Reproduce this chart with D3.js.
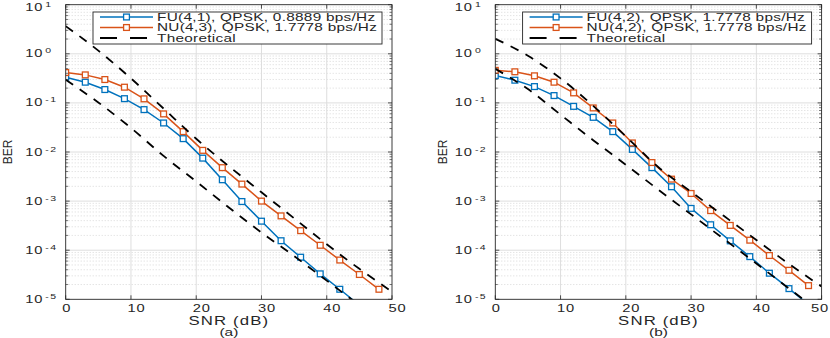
<!DOCTYPE html>
<html>
<head>
<meta charset="utf-8">
<script src="https://cdn.jsdelivr.net/npm/d3@7"></script>
<style>
body { margin: 0; background: #fff; }
text { font-family: "Liberation Sans", Arial, sans-serif; fill: #262626; }
</style>
</head>
<body>
<div id="chart"></div>
<script>
// SNR points (dB) of the simulated curves and of the theoretical curves
const snr = [0, 3, 6, 9, 12, 15, 18, 21, 24, 27, 30, 33, 36, 39, 42, 45, 48];
const theorySnr = [0, 5, 10, 15, 20, 25, 30, 35, 40, 45, 50];

// panel (a)
const fuA = [0.333, 0.264, 0.187, 0.122, 0.073, 0.039, 0.0187, 0.0075, 0.00272, 9.8e-4, 3.9e-4, 1.56e-4, 7.2e-5, 3.3e-5, 1.6e-5, 7.6e-6];
const nuA = [0.415, 0.372, 0.299, 0.209, 0.121, 0.0597, 0.026, 0.0108, 0.0048, 0.00222, 1.0e-3, 5.0e-4, 2.5e-4, 1.26e-4, 6.3e-5, 3.2e-5, 1.6e-5];
const theoryUpperA = [3.66, 1.16, 0.316, 0.0767, 0.0186, 5.13e-3, 1.51e-3, 4.47e-4, 1.32e-4, 4.17e-5, 1.43e-5];
const theoryLowerA = [0.295, 0.102, 0.0309, 8.32e-3, 2.51e-3, 7.41e-4, 2.29e-4, 7.59e-5, 2.40e-5, 7.59e-6, 2.40e-6];

// panel (b)
const fuB = [0.36, 0.29, 0.215, 0.141, 0.085, 0.0508, 0.026, 0.0113, 0.0048, 0.00196, 7.1e-4, 3.3e-4, 1.55e-4, 7.4e-5, 3.4e-5, 1.65e-5, 7.8e-6];
const nuB = [0.46, 0.43, 0.356, 0.264, 0.16, 0.079, 0.039, 0.0153, 0.0061, 0.0028, 0.00143, 6.4e-4, 3.2e-4, 1.6e-4, 7.8e-5, 3.9e-5, 1.9e-5];
const theoryUpperB = [2.02, 0.912, 0.316, 0.0871, 0.0209, 4.90e-3, 1.55e-3, 5.01e-4, 1.62e-4, 5.25e-5, 1.82e-5];
const theoryLowerB = [0.494, 0.191, 0.0575, 0.0174, 5.50e-3, 1.70e-3, 5.37e-4, 1.70e-4, 5.37e-5, 1.66e-5, 5.25e-6];

const legendA = ['FU(4,1), QPSK, 0.8889 bps/Hz', 'NU(4,3), QPSK, 1.7778 bps/Hz', 'Theoretical'];
const legendB = ['FU(4,2), QPSK, 1.7778 bps/Hz', 'NU(4,2), QPSK, 1.7778 bps/Hz', 'Theoretical'];
const panelNames = ['(a)', '(b)'];

const xTicks = [0, 10, 20, 30, 40, 50];
const yExps = [-5, -4, -3, -2, -1, 0, 1];
const minorMult = [2, 3, 4, 5, 6, 7, 8, 9];

const blue = '#0072BD';
const orange = '#D95319';
const sx = 1.4; // text in the figure is drawn wide

const w = 830, h = 338;
const plotTop = 4.7, plotBottom = 299.3, plotW = 326.3;

const svg = d3.select('#chart').append('svg')
    .attr('width', w)
    .attr('height', h);

const wideText = (g, x, y, size, str, stretch = sx) => g.append('text')
    .attr('transform', 'translate(' + x + ',' + y + ') scale(' + stretch + ',1)')
    .attr('font-size', size)
    .text(str);

const drawPanel = (p, idx) => {
    const left = p.left;
    const xScale = d3.scaleLinear().domain([0, 50]).range([left, left + plotW]);
    const yScale = d3.scaleLog().domain([1e-5, 10]).range([plotBottom, plotTop]);
    const g = svg.append('g');

    g.append('clipPath').attr('id', 'clip' + idx)
        .append('rect')
        .attr('x', left).attr('y', plotTop)
        .attr('width', plotW).attr('height', plotBottom - plotTop);

    // minor grid
    const minorVals = [];
    yExps.slice(0, -1).forEach(e => minorMult.forEach(m => minorVals.push(m * Math.pow(10, e))));
    g.selectAll('.minor').data(minorVals).enter().append('line')
        .attr('x1', left).attr('x2', left + plotW)
        .attr('y1', d => yScale(d)).attr('y2', d => yScale(d))
        .attr('stroke', '#cfcfcf').attr('stroke-width', 0.8)
        .attr('stroke-dasharray', '1,2');

    // major grid
    g.selectAll('.hgrid').data(yExps.slice(1, -1)).enter().append('line')
        .attr('x1', left).attr('x2', left + plotW)
        .attr('y1', d => yScale(Math.pow(10, d))).attr('y2', d => yScale(Math.pow(10, d)))
        .attr('stroke', '#dedede').attr('stroke-width', 1);
    g.selectAll('.vgrid').data(xTicks.slice(1, -1)).enter().append('line')
        .attr('x1', d => xScale(d)).attr('x2', d => xScale(d))
        .attr('y1', plotTop).attr('y2', plotBottom)
        .attr('stroke', '#dedede').attr('stroke-width', 1);

    const plot = g.append('g').attr('clip-path', 'url(#clip' + idx + ')');

    const line = d3.line()
        .x((d, i) => xScale(snr[i]))
        .y(d => yScale(d));
    const theoryLine = d3.line()
        .x((d, i) => xScale(theorySnr[i]))
        .y(d => yScale(d))
        .curve(d3.curveMonotoneX);

    [[p.fu, blue], [p.nu, orange]].forEach(([vals, col]) => {
        plot.append('path')
            .attr('d', line(vals))
            .attr('fill', 'none').attr('stroke', col).attr('stroke-width', 1.5);
        plot.selectAll(null)
            .data(vals.map((v, i) => [snr[i], v]).filter(d => d[1] >= 1e-5))
            .enter().append('rect')
            .attr('x', d => xScale(d[0]) - 2.9).attr('y', d => yScale(d[1]) - 2.9)
            .attr('width', 5.8).attr('height', 5.8)
            .attr('fill', '#fff').attr('stroke', col).attr('stroke-width', 1.3);
    });

    [p.up, p.low].forEach(vals => {
        plot.append('path')
            .attr('d', theoryLine(vals))
            .attr('fill', 'none').attr('stroke', '#000').attr('stroke-width', 1.8)
            .attr('stroke-dasharray', '9,8');
    });

    // ticks, inside on all four sides
    xTicks.forEach(t => {
        [[plotBottom, -4], [plotTop, 4]].forEach(([y, d]) => {
            g.append('line').attr('x1', xScale(t)).attr('x2', xScale(t))
                .attr('y1', y).attr('y2', y + d).attr('stroke', '#262626').attr('stroke-width', 0.8);
        });
    });
    yExps.forEach(e => {
        const y = yScale(Math.pow(10, e));
        [[left, 4], [left + plotW, -4]].forEach(([x, d]) => {
            g.append('line').attr('x1', x).attr('x2', x + d)
                .attr('y1', y).attr('y2', y).attr('stroke', '#262626').attr('stroke-width', 0.8);
        });
    });
    minorVals.forEach(v => {
        const y = yScale(v);
        [[left, 2.5], [left + plotW, -2.5]].forEach(([x, d]) => {
            g.append('line').attr('x1', x).attr('x2', x + d)
                .attr('y1', y).attr('y2', y).attr('stroke', '#262626').attr('stroke-width', 0.6);
        });
    });

    // box
    g.append('rect')
        .attr('x', left).attr('y', plotTop)
        .attr('width', plotW).attr('height', plotBottom - plotTop)
        .attr('fill', 'none').attr('stroke', '#262626').attr('stroke-width', 0.9);

    // tick labels
    xTicks.forEach(t => {
        const lbl = wideText(g, xScale(t) - 3.5, 312, 10.5, t).attr('letter-spacing', 0.6);
        const r = lbl.node().getBoundingClientRect();
        if (r.right > w - 1) {
            lbl.attr('transform', 'translate(' + (xScale(t) - 3.5 - (r.right - w + 1)) + ',312) scale(' + sx + ',1)');
        }
    });
    yExps.forEach(e => {
        const y = Math.max(yScale(Math.pow(10, e)) + 3.5, 10.8);
        const t = wideText(g, left - 40.5, y, 10.5, '10')
            .attr('letter-spacing', 0.6);
        t.append('tspan').attr('dy', -4).attr('dx', 1.5).attr('font-size', 7.5)
            .attr('letter-spacing', 1).text(e);
    });

    // axis labels
    g.append('text')
        .attr('transform', 'translate(' + p.berX + ',152) rotate(-90)')
        .attr('text-anchor', 'middle').attr('font-size', 12)
        .text('BER');
    wideText(g, left + plotW / 2, 324.5, 12, 'SNR (dB)')
        .attr('text-anchor', 'middle').attr('letter-spacing', 0.8);
    wideText(g, left + plotW / 2, 335.5, 11, p.name)
        .attr('text-anchor', 'middle');

    // legend
    const lx = left + 27.3;
    const lg = g.append('g');
    lg.append('rect')
        .attr('x', lx).attr('y', 12).attr('width', 289).attr('height', 32)
        .attr('fill', '#fff').attr('stroke', '#262626').attr('stroke-width', 0.9);
    const rows = [17, 27.5, 38];
    [blue, orange].forEach((col, i) => {
        lg.append('line').attr('x1', lx + 7).attr('x2', lx + 60)
            .attr('y1', rows[i]).attr('y2', rows[i])
            .attr('stroke', col).attr('stroke-width', 1.5);
        lg.append('rect')
            .attr('x', lx + 33.5 - 2.9).attr('y', rows[i] - 2.9)
            .attr('width', 5.8).attr('height', 5.8)
            .attr('fill', '#fff').attr('stroke', col).attr('stroke-width', 1.3);
    });
    lg.append('line').attr('x1', lx + 7).attr('x2', lx + 60)
        .attr('y1', rows[2]).attr('y2', rows[2])
        .attr('stroke', '#000').attr('stroke-width', 1.8)
        .attr('stroke-dasharray', '17,13');
    p.legend.forEach((s, i) => {
        wideText(lg, lx + 64, rows[i] + 3.8, 10.5, s, 1.46).attr('letter-spacing', 0.2);
    });
};

const panels = [
    { left: 65.7, fu: fuA, nu: nuA, up: theoryUpperA, low: theoryLowerA, legend: legendA, name: panelNames[0], berX: 11.5 },
    { left: 495.3, fu: fuB, nu: nuB, up: theoryUpperB, low: theoryLowerB, legend: legendB, name: panelNames[1], berX: 446.5 }
];

panels.forEach(drawPanel);
</script>
</body>
</html>
